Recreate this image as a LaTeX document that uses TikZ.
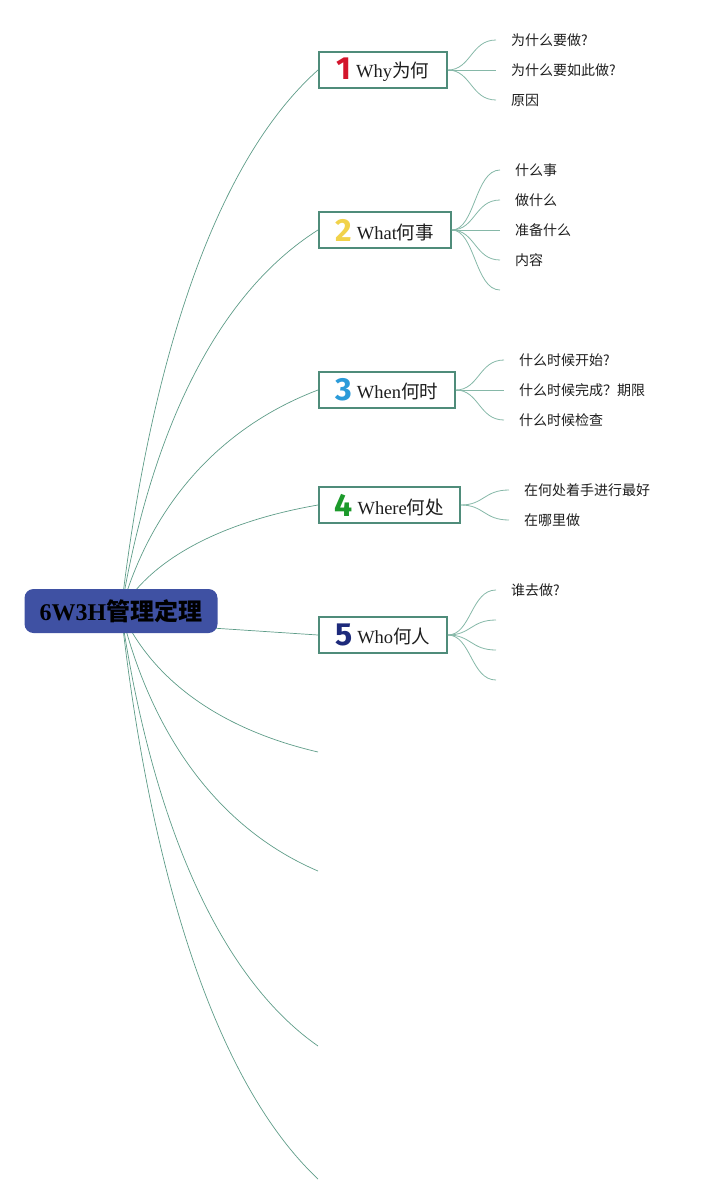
\documentclass[tikz,border=0pt]{standalone}
\usepackage{fontspec}
\setmainfont{Liberation Serif}
\newfontfamily\cjk{Noto Sans CJK SC}
\newfontfamily\digitfont{Fira Sans}
\definecolor{linec}{HTML}{5E9C88}
\definecolor{leafc}{HTML}{86B8A8}
\definecolor{boxc}{HTML}{4F8C7A}
\definecolor{rootc}{HTML}{3F51A3}
\definecolor{txt}{HTML}{1E1E1E}
\definecolor{dred}{HTML}{D3152C}
\definecolor{dyellow}{HTML}{F1D24A}
\definecolor{dblue}{HTML}{2B9BD9}
\definecolor{dgreen}{HTML}{1C9A2B}
\definecolor{dnavy}{HTML}{1D2A7B}
\newcommand{\dg}[2]{\raisebox{-2pt}{\digitfont\bfseries\fontsize{32}{32}\selectfont\color{#1}#2}}
\newcommand{\brtext}[3]{\dg{#1}{#2}\hspace{4.5pt}#3\hspace{1pt}}
\begin{document}
\begin{tikzpicture}[x=1pt,y=-1pt,
  branch/.style={draw=boxc,line width=1.8pt,fill=white,minimum height=36pt,anchor=west,inner sep=0pt,text=txt,font=\fontsize{18.5}{18.5}\selectfont},
  rootbox/.style={fill=rootc,rounded corners=9pt,minimum width=193pt,minimum height=44pt,inner sep=0pt,text=black,font=\bfseries\fontsize{24}{24}\selectfont},
  leaf/.style={anchor=west,inner sep=0pt,text=txt,font=\cjk\fontsize{14}{14}\selectfont},
  conn/.style={draw=linec,line width=0.7pt},
  lconn/.style={draw=leafc,line width=0.8pt}]
\useasboundingbox (0,0) rectangle (710,1204);
% root centre points
\coordinate (rc) at (121,611);
\coordinate (rc5) at (121,622);
% loose ends of root connectors
\coordinate (e6) at (318,752);
\coordinate (e7) at (318,871);
\coordinate (e8) at (318,1046);
\coordinate (e9) at (318,1179);
% branch nodes
\node[branch,minimum width=128pt] (b1) at (318,70) {\brtext{dred}{1}{Why{\cjk 为何}}};
\node[branch,minimum width=132pt] (b2) at (318,230) {\brtext{dyellow}{2}{What{\cjk 何事}}};
\node[branch,minimum width=136pt] (b3) at (318,390) {\brtext{dblue}{3}{When{\cjk 何时}}};
\node[branch,minimum width=141pt] (b4) at (318,505) {\brtext{dgreen}{4}{Where{\cjk 何处}}};
\node[branch,minimum width=128pt] (b5) at (318,635) {\brtext{dnavy}{5}{Who{\cjk 何人}}};
% root connectors (behind root)
\draw[conn] (rc) .. controls (150,362) and (215,162) .. (b1.west);
\draw[conn] (rc) .. controls (150,436) and (215,295) .. (b2.west);
\draw[conn] (rc) .. controls (150,507) and (218,428) .. (b3.west);
\draw[conn] (rc) .. controls (150,560) and (220,522) .. (b4.west);
\draw[conn] (rc5) -- (b5.west);
\draw[conn] (rc) .. controls (150,676) and (215,728) .. (e6);
\draw[conn] (rc) .. controls (150,730) and (215,827) .. (e7);
\draw[conn] (rc) .. controls (150,811) and (215,974) .. (e8);
\draw[conn] (rc) .. controls (150,872) and (215,1082) .. (e9);
% root
\node[rootbox] (root) at (121,611) {6W3H{\cjk\bfseries 管理定理}};
% leaves of 1
\coordinate (l11) at (496,40);
\coordinate (l12) at (496,70);
\coordinate (l13) at (496,100);
\node[leaf] (t11) at (511,40) {为什么要做?};
\node[leaf] (t12) at (511,70) {为什么要如此做?};
\node[leaf] (t13) at (511,100) {原因};
\foreach \c in {l11,l12,l13}
  \draw[lconn] (b1.east) .. controls (471,70) and (471,70|-\c) .. (\c);
% leaves of 2
\coordinate (l21) at (500,170);
\coordinate (l22) at (500,200);
\coordinate (l23) at (500,230);
\coordinate (l24) at (500,260);
\coordinate (l25) at (500,290);
\node[leaf] (t21) at (515,170) {什么事};
\node[leaf] (t22) at (515,200) {做什么};
\node[leaf] (t23) at (515,230) {准备什么};
\node[leaf] (t24) at (515,260) {内容};
\foreach \c in {l21,l22,l23,l24,l25}
  \draw[lconn] (b2.east) .. controls (475,230) and (475,230|-\c) .. (\c);
% leaves of 3
\coordinate (l31) at (504,360);
\coordinate (l32) at (504,390);
\coordinate (l33) at (504,420);
\node[leaf] (t31) at (519,360) {什么时候开始?};
\node[leaf] (t32) at (519,390) {什么时候完成？期限};
\node[leaf] (t33) at (519,420) {什么时候检查};
\foreach \c in {l31,l32,l33}
  \draw[lconn] (b3.east) .. controls (479,390) and (479,390|-\c) .. (\c);
% leaves of 4
\coordinate (l41) at (509,490);
\coordinate (l42) at (509,520);
\node[leaf] (t41) at (524,490) {在何处着手进行最好};
\node[leaf] (t42) at (524,520) {在哪里做};
\foreach \c in {l41,l42}
  \draw[lconn] (b4.east) .. controls (484,505) and (484,505|-\c) .. (\c);
% leaves of 5
\coordinate (l51) at (496,590);
\coordinate (l52) at (496,620);
\coordinate (l53) at (496,650);
\coordinate (l54) at (496,680);
\node[leaf] (t51) at (511,590) {谁去做?};
\foreach \c in {l51,l52,l53,l54}
  \draw[lconn] (b5.east) .. controls (471,635) and (471,635|-\c) .. (\c);
\end{tikzpicture}
\end{document}
